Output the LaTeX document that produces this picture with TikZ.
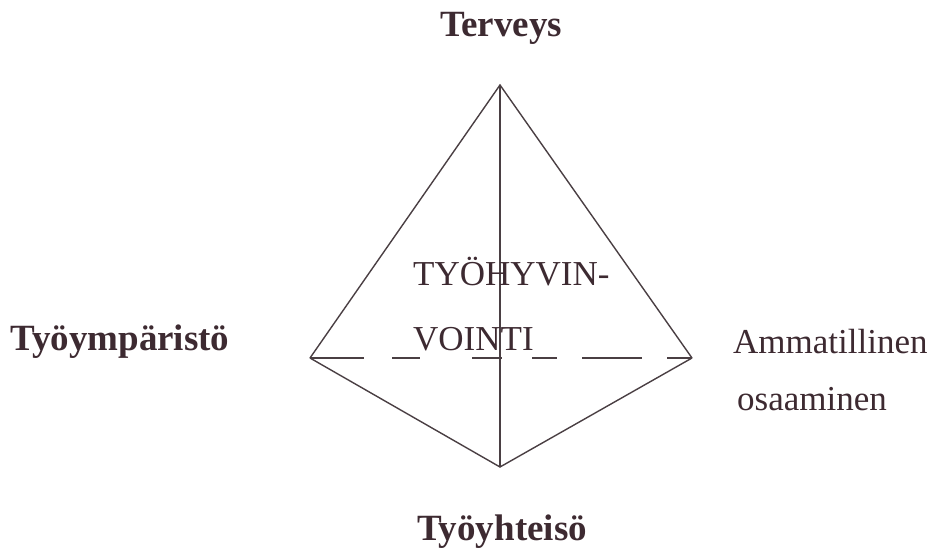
\documentclass[tikz,border=0pt]{standalone}
\usepackage{fontspec}
\setmainfont{Liberation Serif}
\definecolor{inkline}{HTML}{4A3F43}
\definecolor{inktext}{HTML}{3D2A31}
\tikzset{
  side/.style={draw=inkline, line width=1.4pt},
  lbl/.style={inner sep=0pt, text=inktext, font=\fontsize{35}{42}\selectfont},
  blbl/.style={lbl, font=\fontsize{37}{44}\selectfont\bfseries}
}
\begin{document}
\begin{tikzpicture}[x=1pt, y=-1pt]
\useasboundingbox (0,0) rectangle (940,548);
% corners of the pyramid
\coordinate (top) at (500,85);
\coordinate (lft) at (310,358);
\coordinate (rgt) at (692,358);
\coordinate (bot) at (500,467);
\draw[side] (lft) -- (top) -- (rgt);
\draw[side] (lft) -- (bot) -- (rgt);
\draw[side] (top) -- (bot);
\draw[side, dash pattern=on 54pt off 28pt on 28pt off 52pt on 30pt off 30pt on 25pt off 25pt on 60pt off 25pt on 27pt] (lft) -- (rgt);
% labels
\node[blbl, anchor=base] (terveys) at (501,37) {Terveys};
\node[blbl, anchor=base west] (ymparisto) at (10,350) {Työympäristö};
\node[lbl, anchor=base west] (ammat) at (733,353) {Ammatillinen};
\node[lbl, anchor=base west] (osaam) at (737,410) {osaaminen};
\node[blbl, anchor=base] (yhteiso) at (502,540) {Työyhteisö};
\node[lbl, anchor=base west] (hyvin) at (413,285) {TYÖHYVIN-};
\node[lbl, anchor=base west] (vointi) at (413,350) {VOINTI};
\end{tikzpicture}
\end{document}
